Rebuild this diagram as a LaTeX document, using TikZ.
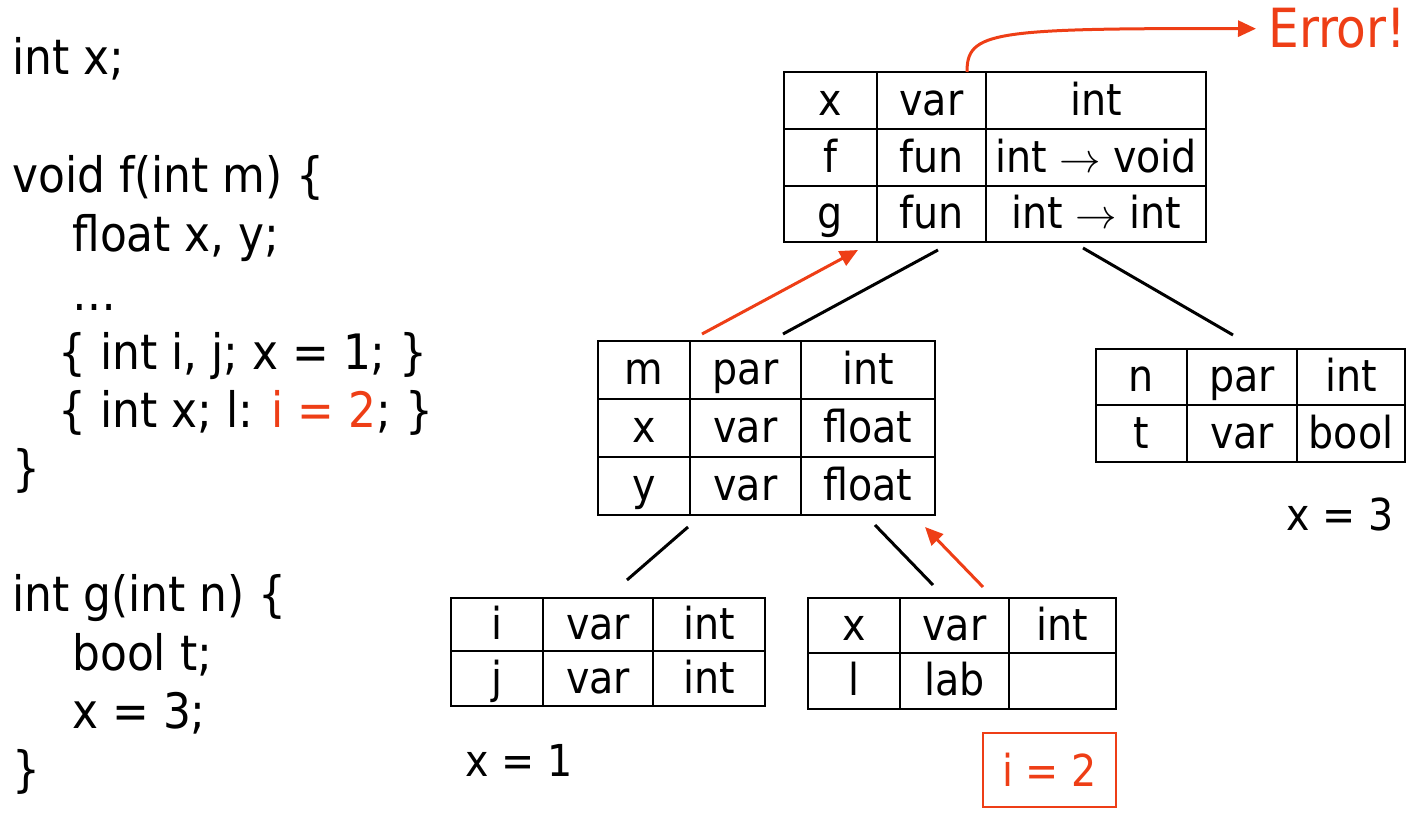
\documentclass[tikz,border=0pt]{standalone}
\usepackage{fontspec}
\setmainfont{DejaVu Sans Condensed}
\usetikzlibrary{arrows.meta,fit}
\definecolor{errred}{RGB}{238,62,22}
\begin{document}
\begin{tikzpicture}[x=0.5pt,y=-0.5pt,
  txt/.style={font=\fontsize{24.4}{28}\selectfont, inner sep=0pt, anchor=base west},
  lbl/.style={font=\fontsize{22}{26}\selectfont, inner sep=0pt, anchor=base west},
  cell/.style={font=\fontsize{22}{26}\selectfont, inner sep=0pt, anchor=base},
  tablebox/.style={draw, line width=1.3pt, inner sep=0pt},
  grid/.style={line width=1.3pt},
  edge/.style={line width=1.5pt},
  redarrow/.style={line width=1.5pt, errred, -{Triangle[length=9pt,width=8pt]}}]
\useasboundingbox (0,0) rectangle (1415,817);

% ---------- code ----------
\node[txt] (c1) at (12,75) {int x;};
\node[txt] (c2) at (12,193) {void f(int m) \{};
\node[txt] (c3) at (72,252) {float x, y;};
\node[txt] (c4) at (72,311) {…};
\node[txt] (c5) at (58,370) {\{ int i, j; x = 1; \}};
\node[txt] (c6) at (58,428) {\{ int x; l: \textcolor{errred}{i = 2}; \}};
\node[txt] (c7) at (12,486) {\}};
\node[txt] (c8) at (12,612) {int g(int n) \{};
\node[txt] (c9) at (72,671) {bool t;};
\node[txt] (c10) at (72,729) {x = 3;};
\node[txt] (c11) at (12,787) {\}};

% ---------- T0 (global) ----------
\node[tablebox, fit={(784,72) (1206,242)}] (T0) {};
\draw[grid] (877,72) -- (877,242) (986,72) -- (986,242)
            (784,129) -- (1206,129) (784,186) -- (1206,186);
\node[cell] (T0a) at (830.5,115.5) {x};
\node[cell] (T0b) at (931.5,115.5) {var};
\node[cell] (T0c) at (1096,115.5) {int};
\node[cell] (T0d) at (830.5,172.5) {f};
\node[cell] (T0e) at (931.5,172.5) {fun};
\node[cell] (T0f) at (1096,172.5) {int $\rightarrow$ void};
\node[cell] (T0g) at (830.5,229) {g};
\node[cell] (T0h) at (931.5,229) {fun};
\node[cell] (T0i) at (1096,229) {int $\rightarrow$ int};

% ---------- T1 (f) ----------
\node[tablebox, fit={(598,341) (935,515)}] (T1) {};
\draw[grid] (690,341) -- (690,515) (801,341) -- (801,515)
            (598,399) -- (935,399) (598,457) -- (935,457);
\node[cell] (T1a) at (644,385) {m};
\node[cell] (T1b) at (745.5,385) {par};
\node[cell] (T1c) at (868,385) {int};
\node[cell] (T1d) at (644,443) {x};
\node[cell] (T1e) at (745.5,443) {var};
\node[cell] (T1f) at (868,443) {float};
\node[cell] (T1g) at (644,501) {y};
\node[cell] (T1h) at (745.5,501) {var};
\node[cell] (T1i) at (868,501) {float};

% ---------- T2 (g) ----------
\node[tablebox, fit={(1096,349) (1405,462)}] (T2) {};
\draw[grid] (1187,349) -- (1187,462) (1297,349) -- (1297,462)
            (1096,405) -- (1405,405);
\node[cell] (T2a) at (1141.5,392) {n};
\node[cell] (T2b) at (1242,392) {par};
\node[cell] (T2c) at (1351,392) {int};
\node[cell] (T2d) at (1141.5,448.5) {t};
\node[cell] (T2e) at (1242,448.5) {var};
\node[cell] (T2f) at (1351,448.5) {bool};

% ---------- T3 ----------
\node[tablebox, fit={(451,598) (765,706)}] (T3) {};
\draw[grid] (543,598) -- (543,706) (653,598) -- (653,706)
            (451,651) -- (765,651);
\node[cell] (T3a) at (497,639.5) {i};
\node[cell] (T3b) at (598,639.5) {var};
\node[cell] (T3c) at (709,639.5) {int};
\node[cell] (T3d) at (497,693.5) {j};
\node[cell] (T3e) at (598,693.5) {var};
\node[cell] (T3f) at (709,693.5) {int};

% ---------- T4 ----------
\node[tablebox, fit={(808,598) (1116,709)}] (T4) {};
\draw[grid] (900,598) -- (900,709) (1009,598) -- (1009,709)
            (808,653) -- (1116,653);
\node[cell] (T4a) at (854,640.5) {x};
\node[cell] (T4b) at (954.5,640.5) {var};
\node[cell] (T4c) at (1062.5,640.5) {int};
\node[cell] (T4d) at (854,696) {l};
\node[cell] (T4e) at (954.5,696) {lab};

% ---------- tree edges ----------
\coordinate (e1a) at (938,250); \coordinate (e1b) at (783,334);
\coordinate (e2a) at (1083,248); \coordinate (e2b) at (1233,335);
\coordinate (e3a) at (688,527); \coordinate (e3b) at (627,580);
\coordinate (e4a) at (875,525); \coordinate (e4b) at (933,585);
\draw[edge] (e1a) -- (e1b);
\draw[edge] (e2a) -- (e2b);
\draw[edge] (e3a) -- (e3b);
\draw[edge] (e4a) -- (e4b);

% ---------- red arrows ----------
\coordinate (r1a) at (702,334); \coordinate (r1b) at (858,250);
\coordinate (r2a) at (983,587); \coordinate (r2b) at (925,527);
\draw[redarrow] (r1a) -- (r1b);
\draw[redarrow] (r2a) -- (r2b);

\node[font=\fontsize{27}{32}\selectfont, text=errred, inner sep=0pt, anchor=base west] (err) at (1268,48) {Error!};
\coordinate (errstart) at (967,72);
\draw[redarrow] (errstart) .. controls (967,32) and (990,28) .. ([xshift=-6pt]err.west);

% ---------- labels ----------
\node[lbl] (x3) at (1286,531) {x = 3};
\node[lbl] (x1) at (465,777) {x = 1};
\node[draw=errred, line width=1.3pt, minimum width=66.5pt, minimum height=37pt, inner sep=0pt, text=errred, font=\fontsize{22}{26}\selectfont] (i2) at (1049.5,770) {i = 2};
\end{tikzpicture}
\end{document}
